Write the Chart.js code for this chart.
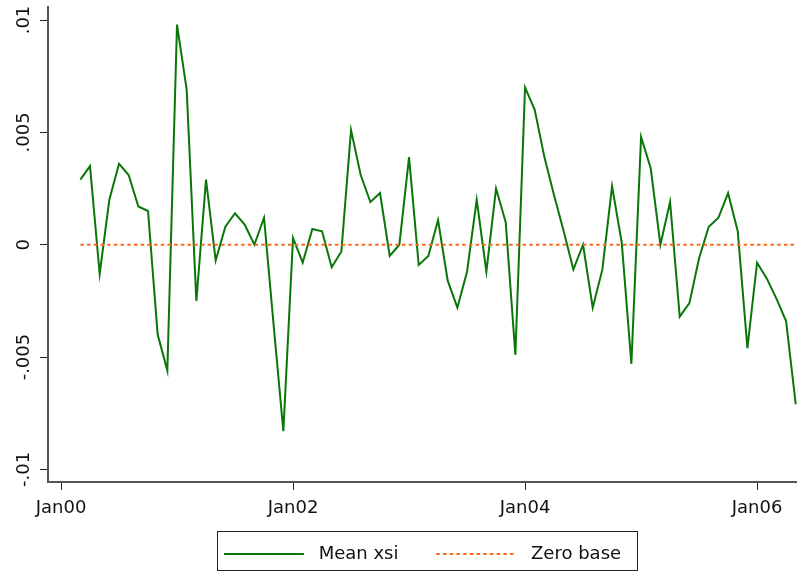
<!DOCTYPE html>
<html lang="en">
<head>
    <meta charset="UTF-8">
    <title>Mean xsi</title>
    <script src="https://cdn.jsdelivr.net/npm/chart.js"></script>
    <style>
        body { margin: 0; padding: 0; background: #fff; }
        #wrap { width: 797px; height: 573px; }
    </style>
</head>
<body>
    <div id="wrap"><canvas id="xsiChart"></canvas></div>
    <script>
        // monthly observations, Mar 2000 .. May 2006
        const months = [
            '2000-03', '2000-04', '2000-05', '2000-06', '2000-07', '2000-08', '2000-09', '2000-10', '2000-11', '2000-12',
            '2001-01', '2001-02', '2001-03', '2001-04', '2001-05', '2001-06', '2001-07', '2001-08', '2001-09', '2001-10', '2001-11', '2001-12',
            '2002-01', '2002-02', '2002-03', '2002-04', '2002-05', '2002-06', '2002-07', '2002-08', '2002-09', '2002-10', '2002-11', '2002-12',
            '2003-01', '2003-02', '2003-03', '2003-04', '2003-05', '2003-06', '2003-07', '2003-08', '2003-09', '2003-10', '2003-11', '2003-12',
            '2004-01', '2004-02', '2004-03', '2004-04', '2004-05', '2004-06', '2004-07', '2004-08', '2004-09', '2004-10', '2004-11', '2004-12',
            '2005-01', '2005-02', '2005-03', '2005-04', '2005-05', '2005-06', '2005-07', '2005-08', '2005-09', '2005-10', '2005-11', '2005-12',
            '2006-01', '2006-02', '2006-03', '2006-04', '2006-05'
        ];
        const meanXsi = [
            0.0029, 0.0035, -0.0013, 0.0020, 0.0036, 0.0031, 0.0017, 0.0015, -0.0040, -0.0056,
            0.0098, 0.0069, -0.0025, 0.0029, -0.0007, 0.0008, 0.0014, 0.0009, 0.0000, 0.0012, -0.0036, -0.0083,
            0.0003, -0.0008, 0.0007, 0.0006, -0.0010, -0.0003, 0.0051, 0.0031, 0.0019, 0.0023, -0.0005, 0.0000,
            0.0039, -0.0009, -0.0005, 0.0011, -0.0016, -0.0028, -0.0012, 0.0020, -0.0012, 0.0025, 0.0010, -0.0049,
            0.0070, 0.0060, 0.0039, 0.0022, 0.0006, -0.0011, 0.0000, -0.0028, -0.0011, 0.0026, 0.0001, -0.0053,
            0.0048, 0.0034, 0.0000, 0.0019, -0.0032, -0.0026, -0.0006, 0.0008, 0.0012, 0.0023, 0.0006, -0.0046,
            -0.0008, -0.0015, -0.0024, -0.0034, -0.0071
        ];
        // zero reference line, first to last month
        const zeroBaseMonths = ['2000-03', '2006-05'];
        const zeroBase = [0, 0];

        const xTickMonths = ['2000-01', '2002-01', '2004-01', '2006-01'];
        const xTickLabels = ['Jan00', 'Jan02', 'Jan04', 'Jan06'];
        const yTickValues = [-0.01, -0.005, 0, 0.005, 0.01];
        const yTickLabels = ['-.01', '-.005', '0', '.005', '.01'];

        // months since Jan 2000
        function monthIndex(s) {
            const [y, m] = s.split('-').map(Number);
            return (y - 2000) * 12 + (m - 1);
        }
        const xTickValues = xTickMonths.map(monthIndex);

        const FONT = "'DejaVu Sans', Verdana, sans-serif";

        // box round the legend, like Stata draws it
        const legendFrame = {
            id: 'legendFrame',
            afterDraw(chart) {
                const hb = chart.legend.legendHitBoxes;
                if (!hb || !hb.length) return;
                const last = hb[hb.length - 1];
                const left = hb[0].left - 7;
                const right = last.left + last.width + 16;
                const top = hb[0].top - 14;
                const bottom = hb[0].top + 25;
                const c = chart.ctx;
                c.save();
                c.strokeStyle = '#222';
                c.lineWidth = 1;
                c.strokeRect(Math.round(left) + 0.5, Math.round(top) + 0.5, Math.round(right - left), bottom - top);
                c.restore();
            }
        };

        const ctx = document.getElementById('xsiChart').getContext('2d');
        const xsiChart = new Chart(ctx, {
            type: 'line',
            data: {
                datasets: [{
                    label: 'Mean xsi',
                    data: months.map((m, i) => ({ x: monthIndex(m), y: meanXsi[i] })),
                    borderColor: '#0a760a',
                    borderWidth: 2,
                    pointRadius: 0,
                    pointStyle: 'line',
                    tension: 0,
                    fill: false,
                    order: 1
                }, {
                    label: 'Zero base',
                    data: zeroBaseMonths.map((m, i) => ({ x: monthIndex(m), y: zeroBase[i] })),
                    borderColor: '#ff6a1a',
                    borderWidth: 2,
                    borderDash: [3.5, 3.2],
                    pointRadius: 0,
                    pointStyle: 'line',
                    fill: false,
                    order: 0
                }]
            },
            options: {
                responsive: true,
                maintainAspectRatio: false,
                animation: false,
                layout: { padding: { top: 7, left: 0, right: 0, bottom: 0 } },
                plugins: {
                    title: { display: false },
                    tooltip: { enabled: false },
                    legend: {
                        position: 'bottom',
                        fullSize: false,
                        labels: {
                            usePointStyle: true,
                            pointStyleWidth: 80,
                            padding: 15,
                            color: '#111',
                            font: { family: FONT, size: 18 },
                            sort: (a, b) => a.datasetIndex - b.datasetIndex,
                            // spaces give the wider Stata spacing between key and text
                            generateLabels: (chart) => {
                                const items = Chart.defaults.plugins.legend.labels.generateLabels(chart);
                                items.forEach(it => {
                                    const ds = chart.data.datasets[it.datasetIndex];
                                    it.text = ' ' + it.text + (it.datasetIndex === 0 ? '    ' : '');
                                    it.strokeStyle = ds.borderColor;
                                    it.lineWidth = ds.borderWidth;
                                    it.lineDash = ds.borderDash || [];
                                });
                                return items;
                            }
                        }
                    }
                },
                scales: {
                    x: {
                        type: 'linear',
                        min: -1.345,
                        max: 76.13,
                        afterFit: (s) => { s.height = 48; },
                        afterBuildTicks: (s) => { s.ticks = xTickValues.map(v => ({ value: v })); },
                        border: { display: true, color: '#555', width: 2 },
                        grid: { display: true, drawOnChartArea: false, drawTicks: true, tickLength: 8, color: '#222', lineWidth: 1 },
                        ticks: {
                            autoSkip: false,
                            maxRotation: 0,
                            padding: 8,
                            color: '#111',
                            font: { family: FONT, size: 18 },
                            callback: (v) => xTickLabels[xTickValues.indexOf(v)]
                        }
                    },
                    y: {
                        min: -0.01056,
                        max: 0.01058,
                        afterFit: (s) => { s.width = 48; },
                        afterBuildTicks: (s) => { s.ticks = yTickValues.map(v => ({ value: v })); },
                        border: { display: true, color: '#555', width: 2 },
                        grid: { display: true, drawOnChartArea: false, drawTicks: true, tickLength: 8, color: '#222', lineWidth: 1 },
                        ticks: {
                            autoSkip: false,
                            minRotation: 90,
                            maxRotation: 90,
                            crossAlign: 'center',
                            padding: -8,
                            color: '#111',
                            font: { family: FONT, size: 18 },
                            callback: (v) => yTickLabels[yTickValues.indexOf(v)]
                        }
                    }
                }
            },
            plugins: [legendFrame]
        });
    </script>
</body>
</html>
